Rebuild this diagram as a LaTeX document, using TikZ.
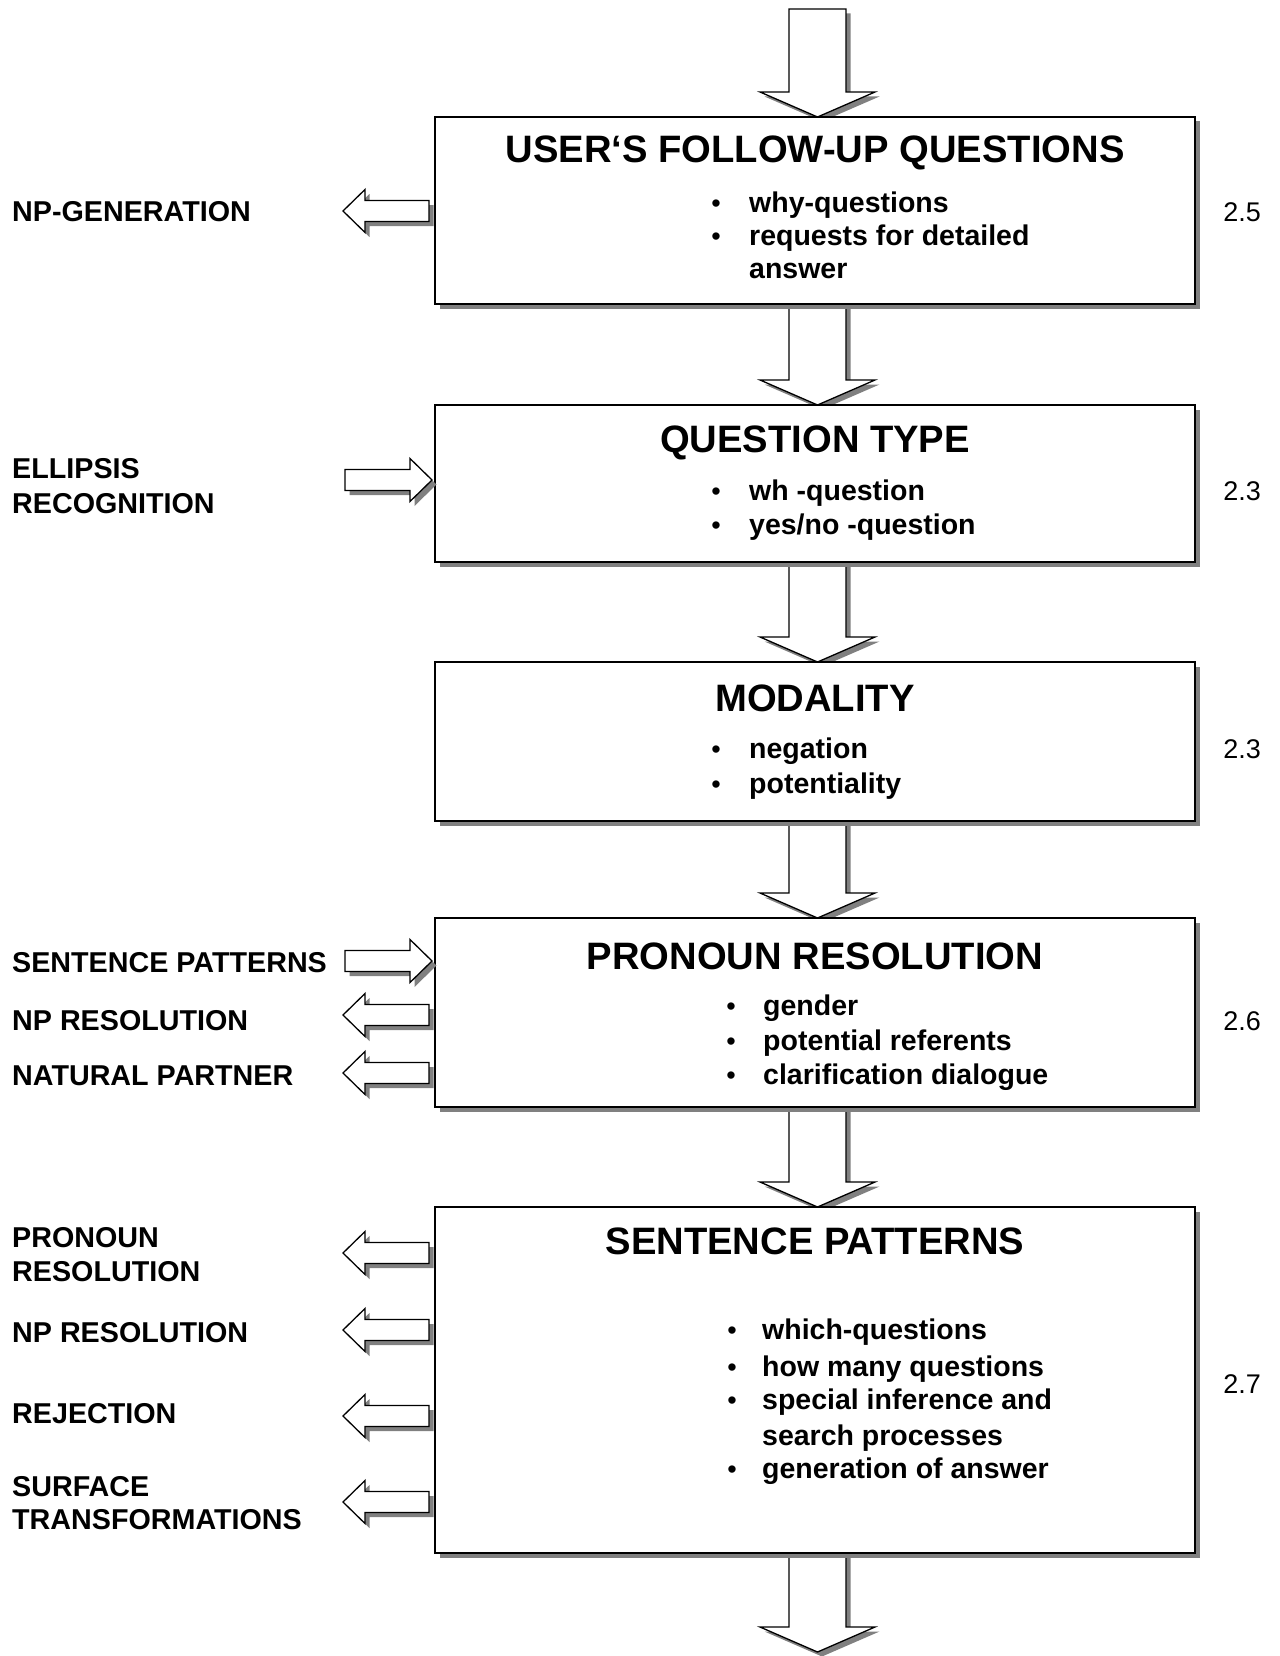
\documentclass[tikz,border=0pt]{standalone}
\usepackage{fontspec}
\setmainfont{Liberation Sans}
\usetikzlibrary{calc,shadows}

% down-pointing block arrow: #1 = start of the shaft, #2 = tip
\newcommand{\downblock}[2]{%
  \path[blockarrow] let \p1=(#1), \p2=(#2) in
    (\x2-28.5pt,\y1) -- (\x2+28.5pt,\y1) -- (\x2+28.5pt,\y2+25pt) -- (\x2+57.5pt,\y2+25pt)
    -- (\x2,\y2) -- (\x2-57.5pt,\y2+25pt) -- (\x2-28.5pt,\y2+25pt) -- cycle;}
% left-pointing block arrow: #1 = tail, #2 = tip
\newcommand{\leftblock}[2]{%
  \path[blockarrow] let \p1=(#1), \p2=(#2) in
    (\x1,\y2+10.5pt) -- (\x2+22pt,\y2+10.5pt) -- (\x2+22pt,\y2+21.5pt) -- (\x2,\y2)
    -- (\x2+22pt,\y2-21.5pt) -- (\x2+22pt,\y2-10.5pt) -- (\x1,\y2-10.5pt) -- cycle;}
% right-pointing block arrow: #1 = tail, #2 = tip
\newcommand{\rightblock}[2]{%
  \path[blockarrow] let \p1=(#1), \p2=(#2) in
    (\x1,\y2+10.5pt) -- (\x2-22pt,\y2+10.5pt) -- (\x2-22pt,\y2+21.5pt) -- (\x2,\y2)
    -- (\x2-22pt,\y2-21.5pt) -- (\x2-22pt,\y2-10.5pt) -- (\x1,\y2-10.5pt) -- cycle;}

\begin{document}
\begin{tikzpicture}[x=1pt,y=-1pt,
  shadowed/.style={drop shadow={shadow xshift=4.5pt,shadow yshift=-4.5pt,fill=black!50,opacity=1}},
  box/.style={draw,line width=1.5pt,fill=white,minimum width=760pt,inner sep=0pt,shadowed},
  blockarrow/.style={draw,line width=1.3pt,fill=white,line join=miter,shadowed},
  title/.style={font=\bfseries\fontsize{38.2}{40}\selectfont,anchor=base,inner sep=0pt},
  item/.style={font=\bfseries\fontsize{28.5}{30}\selectfont,anchor=base west,inner sep=0pt},
  dot/.style={font=\fontsize{27}{30}\selectfont,anchor=base,inner sep=0pt},
  side/.style={font=\bfseries\fontsize{28.7}{30}\selectfont,anchor=base west,inner sep=0pt},
  secnum/.style={font=\fontsize{27}{30}\selectfont,anchor=base,inner sep=0pt}]

\useasboundingbox[fill=white] (0,0) rectangle (1279,1656);

% positions of the five boxes (geometry only)
\path (815,210.5) coordinate (c1) (815,483.5) coordinate (c2) (815,741.5) coordinate (c3)
      (815,1012.5) coordinate (c4) (815,1380) coordinate (c5);

% main flow arrows (drawn first, boxes and their shadows go on top)
\coordinate (in) at (817.5,9);
\coordinate (out) at (817.5,1652);
\path (c1) ++(2.5,-93.5) coordinate (t1);
\path (c2) ++(2.5,-78.5) coordinate (t2);
\path (c3) ++(2.5,-79.5) coordinate (t3);
\path (c4) ++(2.5,-94.5) coordinate (t4);
\path (c5) ++(2.5,-173) coordinate (t5);
\path (c1) ++(0,93.5) coordinate (s1);
\path (c2) ++(0,78.5) coordinate (s2);
\path (c3) ++(0,79.5) coordinate (s3);
\path (c4) ++(0,94.5) coordinate (s4);
\path (c5) ++(0,173) coordinate (s5);
\downblock{in}{t1}
\downblock{s1}{t2}
\downblock{s2}{t3}
\downblock{s3}{t4}
\downblock{s4}{t5}
\downblock{s5}{out}

% boxes
\node[box,minimum height=187pt] (b1) at (c1) {};
\node[box,minimum height=157pt] (b2) at (c2) {};
\node[box,minimum height=159pt] (b3) at (c3) {};
\node[box,minimum height=189pt] (b4) at (c4) {};
\node[box,minimum height=346pt] (b5) at (c5) {};

% box 1
\node[title] (h1) at (815,163) {USER‘S FOLLOW-UP QUESTIONS};
\node[dot] (d11) at (716,212) {•};
\node[item] (i11) at (749,212) {why-questions};
\node[dot] (d12) at (716,245) {•};
\node[item] (i12) at (749,245) {requests for detailed};
\node[item] (i13) at (749,278) {answer};
\node[secnum] (n1) at (1242,221) {2.5};

% box 2
\node[title] (h2) at (815,452) {QUESTION TYPE};
\node[dot] (d21) at (716,500) {•};
\node[item] (i21) at (749,500) {wh -question};
\node[dot] (d22) at (716,534) {•};
\node[item] (i22) at (749,534) {yes/no -question};
\node[secnum] (n2) at (1242,500) {2.3};

% box 3
\node[title] (h3) at (815,711) {MODALITY};
\node[dot] (d31) at (716,758) {•};
\node[item] (i31) at (749,758) {negation};
\node[dot] (d32) at (716,793) {•};
\node[item] (i32) at (749,793) {potentiality};
\node[secnum] (n3) at (1242,758) {2.3};

% box 4
\node[title] (h4) at (815,969) {PRONOUN RESOLUTION};
\node[dot] (d41) at (731,1015) {•};
\node[item] (i41) at (763,1015) {gender};
\node[dot] (d42) at (731,1050) {•};
\node[item] (i42) at (763,1050) {potential referents};
\node[dot] (d43) at (731,1084) {•};
\node[item] (i43) at (763,1084) {clarification dialogue};
\node[secnum] (n4) at (1242,1030) {2.6};

% box 5
\node[title] (h5) at (815,1254) {SENTENCE PATTERNS};
\node[dot] (d51) at (732,1339) {•};
\node[item] (i51) at (762,1339) {which-questions};
\node[dot] (d52) at (732,1376) {•};
\node[item] (i52) at (762,1376) {how many questions};
\node[dot] (d53) at (732,1409) {•};
\node[item] (i53) at (762,1409) {special inference and};
\node[item] (i54) at (762,1445) {search processes};
\node[dot] (d55) at (732,1478) {•};
\node[item] (i55) at (762,1478) {generation of answer};
\node[secnum] (n5) at (1242,1393) {2.7};

% side labels
\node[side] (l1) at (12,221) {NP-GENERATION};
\node[side] (l2a) at (12,478) {ELLIPSIS};
\node[side] (l2b) at (12,513) {RECOGNITION};
\node[side] (l4a) at (12,972) {SENTENCE PATTERNS};
\node[side] (l4b) at (12,1030) {NP RESOLUTION};
\node[side] (l4c) at (12,1085) {NATURAL PARTNER};
\node[side] (l5a) at (12,1247) {PRONOUN};
\node[side] (l5b) at (12,1281) {RESOLUTION};
\node[side] (l5c) at (12,1342) {NP RESOLUTION};
\node[side] (l5d) at (12,1423) {REJECTION};
\node[side] (l5e) at (12,1496) {SURFACE};
\node[side] (l5f) at (12,1529) {TRANSFORMATIONS};

% side arrows
\coordinate (a1t) at (429,211);  \coordinate (a1h) at (343,211);
\coordinate (a2t) at (345,480);  \coordinate (a2h) at (432,480);
\coordinate (a3t) at (345,961);  \coordinate (a3h) at (432,961);
\coordinate (a4t) at (429,1015); \coordinate (a4h) at (343,1015);
\coordinate (a5t) at (429,1073); \coordinate (a5h) at (343,1073);
\coordinate (a6t) at (429,1253); \coordinate (a6h) at (343,1253);
\coordinate (a7t) at (429,1330); \coordinate (a7h) at (343,1330);
\coordinate (a8t) at (429,1416); \coordinate (a8h) at (343,1416);
\coordinate (a9t) at (429,1502); \coordinate (a9h) at (343,1502);
\leftblock{a1t}{a1h}
\rightblock{a2t}{a2h}
\rightblock{a3t}{a3h}
\leftblock{a4t}{a4h}
\leftblock{a5t}{a5h}
\leftblock{a6t}{a6h}
\leftblock{a7t}{a7h}
\leftblock{a8t}{a8h}
\leftblock{a9t}{a9h}
\end{tikzpicture}
\end{document}
